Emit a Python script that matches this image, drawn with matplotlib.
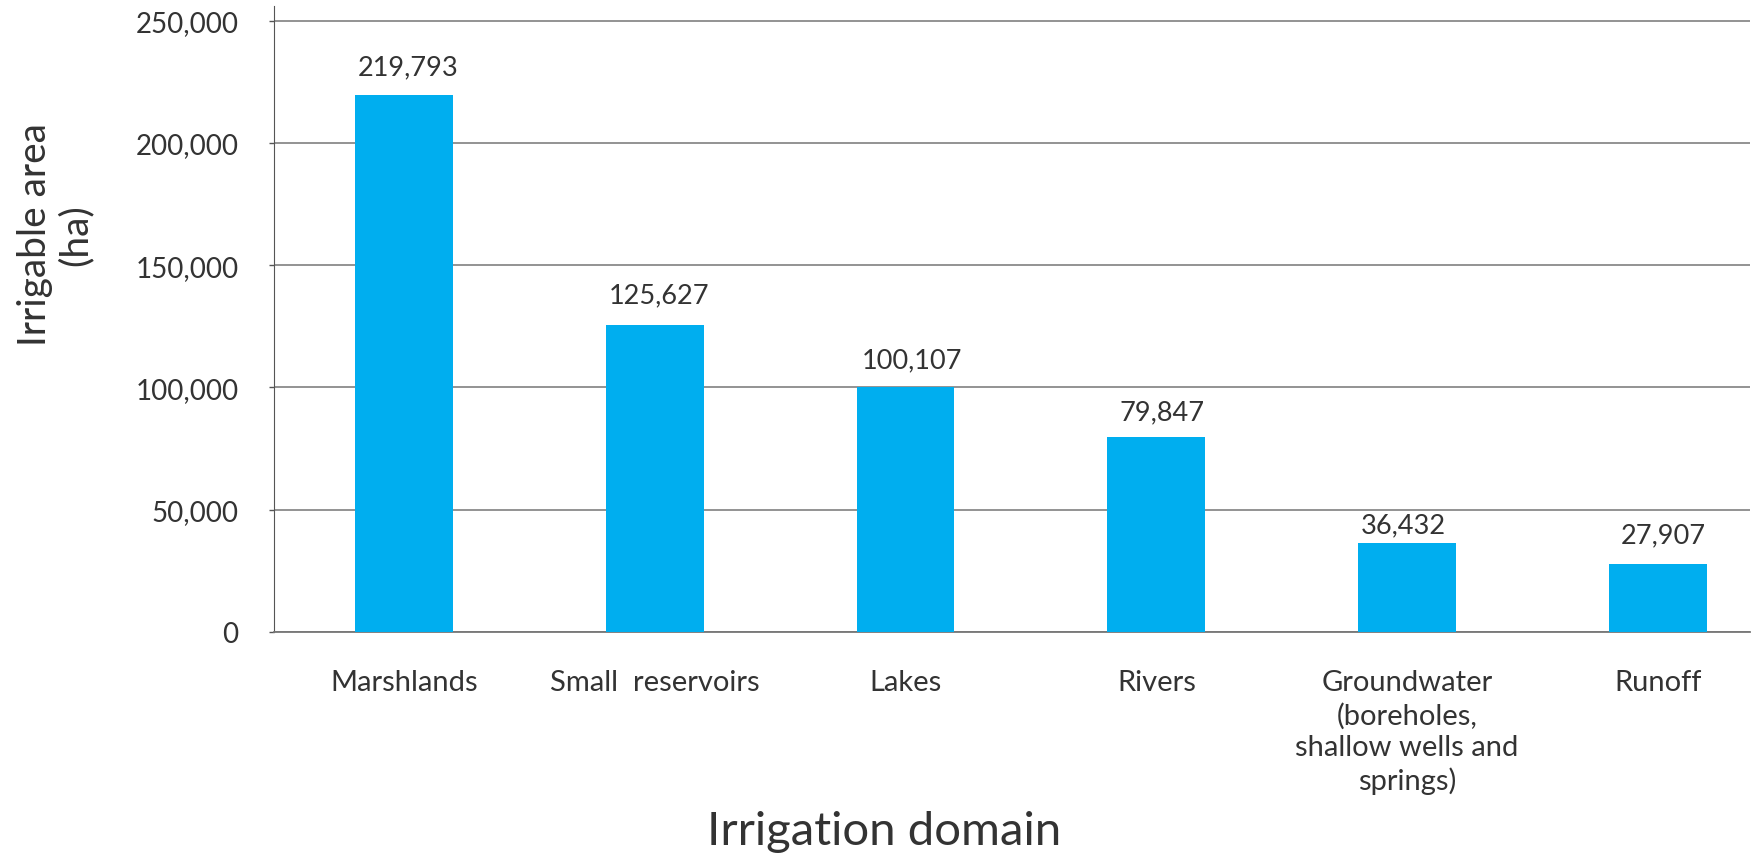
import numpy as np
import matplotlib.pyplot as plt

# Irrigable area by irrigation domain
domains = ['Marshlands', 'Small  reservoirs', 'Lakes', 'Rivers',
           'Groundwater\n(boreholes,\nshallow wells and\nsprings)', 'Runoff']
area_ha = [219793, 125627, 100107, 79847, 36432, 27907]
y_ticks = [0, 50000, 100000, 150000, 200000, 250000]

# hand-tuned label nudges (points) above each bar
label_dx = [3, 3.5, 5, 4, -3, 3.5]
label_dy = [20, 21.5, 19.5, 18, 13, 21]

bar_color = '#00AEEF'
text_color = '#333333'
grid_color = '#8a8a8a'

plt.rcParams['font.family'] = ['Lato', 'DejaVu Sans']

fig = plt.figure(figsize=(17.56, 8.62), dpi=100)
ax = fig.add_axes([274 / 1756, 229 / 862, 1476 / 1756, 626 / 862])

x = np.arange(len(domains))
bars = ax.bar(x, area_ha, width=0.39, color=bar_color, zorder=3)

for rect, val, dx, dy in zip(bars, area_ha, label_dx, label_dy):
    ax.annotate(f'{val:,}', (rect.get_x() + rect.get_width() / 2, val),
                xytext=(dx, dy), textcoords='offset points',
                ha='center', va='center', fontsize=19.5, color=text_color)

ax.set_xlim(-0.518, 5.367)
ax.set_ylim(0, 256000)
ax.set_yticks(y_ticks, [f'{v:,}' for v in y_ticks])
ax.set_xticks(x, domains)
for lbl in ax.get_xticklabels():
    lbl.set_linespacing(1.27)

ax.tick_params(axis='y', length=3.6, width=1, color='#555555', pad=22,
               labelsize=20, labelcolor=text_color)
ax.tick_params(axis='x', length=0, pad=27, labelsize=21, labelcolor=text_color)

ax.grid(axis='y', color=grid_color, linewidth=1.3, zorder=0)
for side in ['top', 'right']:
    ax.spines[side].set_visible(False)
ax.spines['left'].set_color('#555555')
ax.spines['bottom'].set_color('#777777')
ax.spines['bottom'].set_linewidth(1.3)

ax.set_xlabel('Irrigation domain', fontsize=34, color=text_color)
ax.xaxis.set_label_coords((884 - 274) / 1476, -0.285)

fig.text(55 / 1756, 1 - 235 / 862, 'Irrigable area\n(ha)', rotation=90,
         ha='center', va='center', multialignment='center',
         linespacing=1.15, fontsize=28, color=text_color)

fig.savefig('out.png', dpi=100)
